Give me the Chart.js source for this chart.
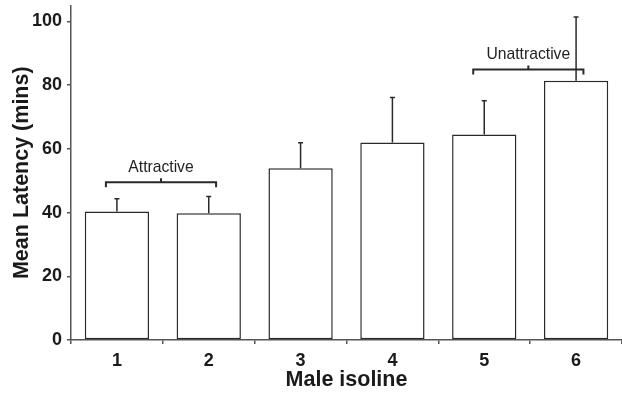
<!DOCTYPE html>
<html>
<head>
<meta charset="utf-8">
<script src="https://cdn.jsdelivr.net/npm/chart.js@4.4.1/dist/chart.umd.min.js"></script>
<style>
  html, body { margin: 0; padding: 0; background: #fff; }
  #wrap { width: 622px; height: 394px; }
</style>
</head>
<body>
<div id="wrap"><canvas id="latencyChart" width="622" height="394"></canvas></div>
<script>
const isolines = ["1", "2", "3", "4", "5", "6"];
const meanLatency = [40.3, 39.8, 53.9, 62.0, 64.5, 81.4];
const latencyError = [4.0, 5.2, 8.0, 14.1, 10.6, 20.0];
const yTicks = [0, 20, 40, 60, 80, 100];

// bracket groups: label, first/last isoline index, height in minutes
const groupLabels = ["Attractive", "Unattractive"];
const groupFrom = [0, 4];
const groupTo = [1, 5];
const groupLevel = [49.5, 84.9];

const INK = "#2a2a2a";

const errorBars = {
  id: "errorBars",
  afterDatasetsDraw(chart) {
    const ctx = chart.ctx;
    const y = chart.scales.y;
    const meta = chart.getDatasetMeta(0);
    ctx.save();
    ctx.strokeStyle = INK;
    ctx.lineWidth = 1.5;
    meta.data.forEach((bar, i) => {
      const top = y.getPixelForValue(meanLatency[i] + latencyError[i]);
      ctx.beginPath();
      ctx.moveTo(bar.x, bar.y);
      ctx.lineTo(bar.x, top);
      ctx.moveTo(bar.x - 2.5, top);
      ctx.lineTo(bar.x + 2.5, top);
      ctx.stroke();
    });
    ctx.restore();
  }
};

const brackets = {
  id: "brackets",
  afterDatasetsDraw(chart) {
    const ctx = chart.ctx;
    const x = chart.scales.x;
    const y = chart.scales.y;
    const half = x.getPixelForValue(1) - x.getPixelForValue(0);
    ctx.save();
    ctx.strokeStyle = INK;
    ctx.fillStyle = "#222";
    ctx.lineWidth = 2;
    ctx.font = "15.7px 'Liberation Sans', Arial, sans-serif";
    ctx.textAlign = "center";
    ctx.textBaseline = "middle";
    groupLabels.forEach((label, i) => {
      const x0 = x.getPixelForValue(groupFrom[i]) - half * 0.12;
      const x1 = x.getPixelForValue(groupTo[i]) + half * 0.08;
      const yy = y.getPixelForValue(groupLevel[i]);
      const mid = (x0 + x1) / 2;
      ctx.beginPath();
      ctx.moveTo(x0, yy + 5);
      ctx.lineTo(x0, yy);
      ctx.lineTo(x1, yy);
      ctx.lineTo(x1, yy + 5);
      ctx.moveTo(mid, yy);
      ctx.lineTo(mid, yy - 4);
      ctx.stroke();
      ctx.fillText(label, mid, yy - 15);
    });
    ctx.restore();
  }
};

new Chart(document.getElementById("latencyChart"), {
  type: "bar",
  data: {
    labels: isolines,
    datasets: [{
      data: meanLatency,
      backgroundColor: "#ffffff",
      borderColor: INK,
      borderWidth: 1.5,
      borderSkipped: false,
      categoryPercentage: 1,
      barPercentage: 0.7
    }]
  },
  options: {
    responsive: false,
    animation: false,
    layout: { padding: { top: 0, right: 0, left: 0, bottom: 0 } },
    plugins: {
      legend: { display: false },
      tooltip: { enabled: false }
    },
    scales: {
      x: {
        grid: {
          offset: true,
          drawOnChartArea: false,
          drawTicks: true,
          tickLength: 4,
          color: "#555",
          lineWidth: 1.5
        },
        border: { display: true, color: "#555", width: 1.5 },
        ticks: {
          padding: 6,
          color: "#1a1a1a",
          font: { family: "'Liberation Sans', Arial", size: 18, weight: "bold" }
        },
        title: {
          display: true,
          text: "Male isoline",
          color: "#1a1a1a",
          padding: { top: 0, bottom: 1 },
          font: { family: "'Liberation Sans', Arial", size: 21.5, weight: "bold" }
        },
        afterFit(scale) { scale.height = 54; }
      },
      y: {
        min: 0,
        max: 105,
        afterBuildTicks(scale) { scale.ticks = yTicks.map(v => ({ value: v })); },
        grid: {
          drawOnChartArea: false,
          drawTicks: true,
          tickLength: 4,
          color: "#555",
          lineWidth: 1.5
        },
        border: { display: true, color: "#555", width: 1.5 },
        ticks: {
          padding: 5,
          color: "#1a1a1a",
          font: { family: "'Liberation Sans', Arial", size: 18, weight: "bold", lineHeight: 0.05 }
        },
        title: {
          display: true,
          text: "Mean Latency (mins)",
          color: "#1a1a1a",
          padding: { top: 9, bottom: 0 },
          font: { family: "'Liberation Sans', Arial", size: 21.5, weight: "bold" }
        },
        afterFit(scale) { scale.width = 71; }
      }
    }
  },
  plugins: [errorBars, brackets]
});
</script>
</body>
</html>
